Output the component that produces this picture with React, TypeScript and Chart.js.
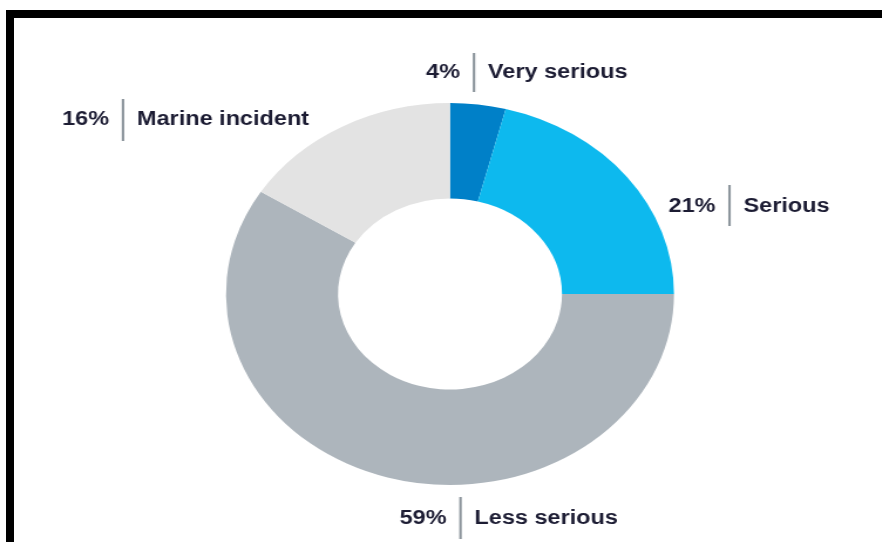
import React, { useEffect, useRef } from "react";
import { Chart, registerables } from "chart.js";

Chart.register(...registerables);

const categories = ["Very serious", "Serious", "Less serious", "Marine incident"];
const values = [4, 21, 59, 16];
const percentLabels = ["4%", "21%", "59%", "16%"];
const colors = ["#0080C8", "#0DB9EE", "#ADB5BC", "#E3E3E3"];

// page-space layout for the callouts
const SX = 224 / 191;
const CANVAS_W = Math.round(882 / SX);
const CANVAS_H = 542;
const CX = 450 / SX;
const CY = 294;
const R = 191;

const callouts = [
  { lineX: 474, top: 53, bottom: 92, baseline: 78 },
  { lineX: 729.5, top: 185, bottom: 226, baseline: 212 },
  { lineX: 460.5, top: 497, bottom: 539, baseline: 524 },
  { lineX: 123, top: 99, bottom: 141, baseline: 125 },
];

const calloutPlugin = {
  id: "callouts",
  afterDraw(chart: any) {
    const ctx = chart.ctx;
    ctx.save();
    ctx.font = "bold 20px 'Liberation Sans', Arial, sans-serif";
    ctx.fillStyle = "#1c1c33";
    ctx.textBaseline = "alphabetic";
    callouts.forEach((c, i) => {
      const lx = c.lineX / SX;
      ctx.strokeStyle = "#8c959c";
      ctx.lineWidth = 2.5 / SX;
      ctx.beginPath();
      ctx.moveTo(lx, c.top);
      ctx.lineTo(lx, c.bottom);
      ctx.stroke();
      ctx.textAlign = "right";
      ctx.fillText(percentLabels[i], lx - 14 / SX, c.baseline);
      ctx.textAlign = "left";
      ctx.fillText(categories[i], lx + 14 / SX, c.baseline);
    });
    ctx.restore();
  },
};

export default function App() {
  const ref = useRef<HTMLCanvasElement>(null);
  useEffect(() => {
    if (!ref.current) return;
    const chart = new Chart(ref.current, {
      type: "doughnut",
      data: {
        labels: categories,
        datasets: [
          {
            data: values,
            backgroundColor: colors,
            borderWidth: 0,
            hoverOffset: 0,
          },
        ],
      },
      options: {
        responsive: false,
        animation: false,
        cutout: "50%",
        events: [],
        layout: {
          padding: {
            left: CX - R,
            right: CANVAS_W - (CX + R),
            top: CY - R,
            bottom: CANVAS_H - (CY + R),
          },
        },
        plugins: {
          legend: { display: false },
          tooltip: { enabled: false },
        },
      },
      plugins: [calloutPlugin],
    });
    return () => chart.destroy();
  }, []);

  return (
    <div style={{ position: "absolute", left: 0, top: 0, width: 882, height: 542, background: "#fff", overflow: "hidden" }}>
      <div style={{ position: "absolute", left: 6, top: 10, width: 876, height: 8, background: "#000" }} />
      <div style={{ position: "absolute", left: 6, top: 10, width: 8, height: 532, background: "#000" }} />
      <canvas
        ref={ref}
        width={CANVAS_W}
        height={CANVAS_H}
        style={{
          position: "absolute",
          left: 0,
          top: 0,
          width: CANVAS_W,
          height: CANVAS_H,
          transform: `scaleX(${SX})`,
          transformOrigin: "0 0",
        }}
      />
    </div>
  );
}
